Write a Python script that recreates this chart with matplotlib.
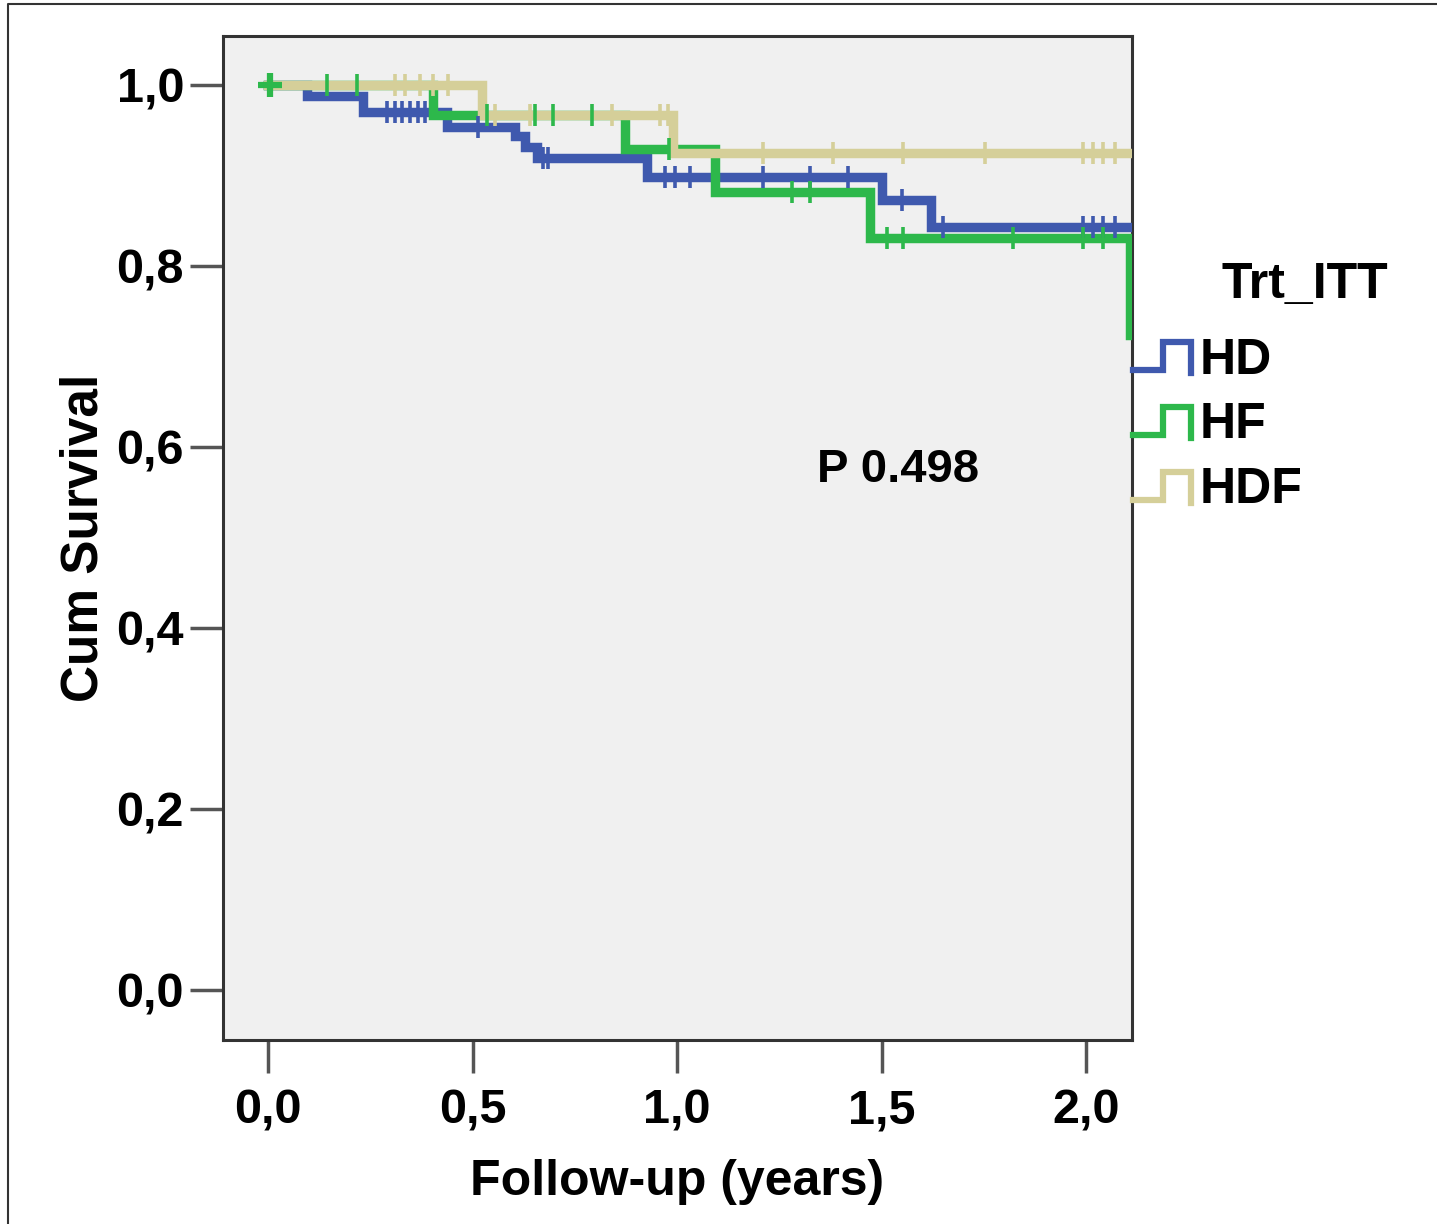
import matplotlib
matplotlib.use("Agg")
import matplotlib.pyplot as plt
from matplotlib.lines import Line2D
from matplotlib.ticker import FuncFormatter

plt.rcParams['font.family'] = ['Liberation Sans', 'DejaVu Sans']
plt.rcParams['font.weight'] = 'bold'

# Kaplan-Meier step curves (event times in years, survival after each step)
hd_times = [0.0, 0.095, 0.232, 0.438, 0.604, 0.628, 0.658, 0.927, 1.50, 1.62, 2.108]
hd_surv = [1.0, 0.988, 0.970, 0.954, 0.943, 0.931, 0.919, 0.898, 0.873, 0.843, 0.843]
hf_times = [0.0, 0.404, 0.873, 1.093, 1.472, 2.108]
hf_surv = [1.0, 0.967, 0.929, 0.882, 0.831, 0.724]
hdf_times = [0.0, 0.523, 0.99, 2.108]
hdf_surv = [1.0, 0.967, 0.925, 0.925]

# censored observations
hd_cens_t = [0.291, 0.311, 0.328, 0.347, 0.367, 0.384, 0.513, 0.672, 0.685,
             0.971, 0.995, 1.032, 1.210, 1.325, 1.418, 1.550,
             1.650, 1.993, 2.017, 2.042, 2.071]
hd_cens_s = [0.970] * 6 + [0.954] + [0.919] * 2 + [0.898] * 6 + [0.873] + [0.843] * 5
hf_cens_t = [0.005, 0.144, 0.218, 0.535, 0.653, 0.697, 0.792, 0.98,
             1.281, 1.325, 1.513, 1.553, 1.822, 1.993, 2.042]
hf_cens_s = [1.0] * 3 + [0.967] * 4 + [0.929] + [0.882] * 2 + [0.831] * 5
hdf_cens_t = [0.311, 0.335, 0.372, 0.403, 0.440, 0.555, 0.641, 0.841, 0.958, 0.978,
              1.210, 1.381, 1.553, 1.753, 1.993, 2.017, 2.042, 2.071]
hdf_cens_s = [1.0] * 5 + [0.967] * 5 + [0.925] * 8

groups = ['HD', 'HF', 'HDF']
colors = ['#3F59AE', '#2DB84B', '#D5CF99']

fig = plt.figure(figsize=(14.37, 12.24), dpi=100)
W, H = 1437, 1224
ax = fig.add_axes([223 / W, 1 - 1040 / H, (1132 - 223) / W, (1040 - 36) / H])
ax.set_facecolor('#F0F0F0')

series = [(hd_times, hd_surv, hd_cens_t, hd_cens_s),
          (hf_times, hf_surv, hf_cens_t, hf_cens_s),
          (hdf_times, hdf_surv, hdf_cens_t, hdf_cens_s)]
# HD at the bottom, HDF on top (as in the SPSS output)
for idx, (t, s, ct, cs) in enumerate(series):
    ax.step(t, s, where='post', color=colors[idx], lw=6.8, solid_joinstyle='miter',
            zorder=3 + idx)
for idx, (t, s, ct, cs) in enumerate(series):
    ax.plot(ct, cs, ls='none', marker='|', ms=16, mew=2.6, color=colors[idx], zorder=7)
# big green cross at start
ax.plot([hf_cens_t[0]], [hf_cens_s[0]], ls='none', marker='+', ms=17, mew=4.5,
        color=colors[1], zorder=8)

ax.set_xlim(-0.11, 2.112)
ax.set_ylim(-0.055, 1.054)
ax.set_xticks([0.0, 0.5, 1.0, 1.5, 2.0])
ax.set_yticks([0.0, 0.2, 0.4, 0.6, 0.8, 1.0])
fmt = FuncFormatter(lambda v, p: f'{v:.1f}'.replace('.', ','))
ax.xaxis.set_major_formatter(fmt)
ax.yaxis.set_major_formatter(fmt)
ax.tick_params(direction='out', length=24, width=2.5, color='#555555',
               labelsize=35, pad=4)
ax.tick_params(axis='x', pad=11)
for lab in ax.get_xticklabels() + ax.get_yticklabels():
    lab.set_fontweight('bold')
for sp in ax.spines.values():
    sp.set_linewidth(2.2)
    sp.set_color('#333333')

ax.set_xlabel('Follow-up (years)', fontsize=36, fontweight='bold', labelpad=18)
ax.set_ylabel('Cum Survival', fontsize=37, fontweight='bold', labelpad=6)

ax.text(1.342, 0.575, 'P 0.498', fontsize=34, fontweight='bold', va='center', ha='left')

# legend drawn by hand (SPSS style step glyphs)
def fx(px):
    return px / W

def fy(py):
    return 1 - py / H

fig.text(fx(1222), fy(285), 'Trt_ITT', fontsize=36, fontweight='bold', va='center', ha='left')
rows = [(370, 342, 361), (435, 407, 425), (500, 472, 490)]
for (low, high, ty), name, c in zip(rows, groups, colors):
    xs = [fx(1133), fx(1163), fx(1163), fx(1191), fx(1191)]
    ys = [fy(low), fy(low), fy(high), fy(high), fy(low + 3)]
    fig.add_artist(Line2D(xs, ys, transform=fig.transFigure, color=c, lw=4.5,
                          solid_joinstyle='miter'))
    fig.text(fx(1200), fy(ty), name, fontsize=36, fontweight='bold', va='center', ha='left')

# thin frame on the left and top of the picture
fig.add_artist(Line2D([fx(8), fx(8), fx(1437)], [0, fy(4), fy(4)],
                      transform=fig.transFigure, color='#333333', lw=1.5))

fig.savefig('out.png', dpi=100)
